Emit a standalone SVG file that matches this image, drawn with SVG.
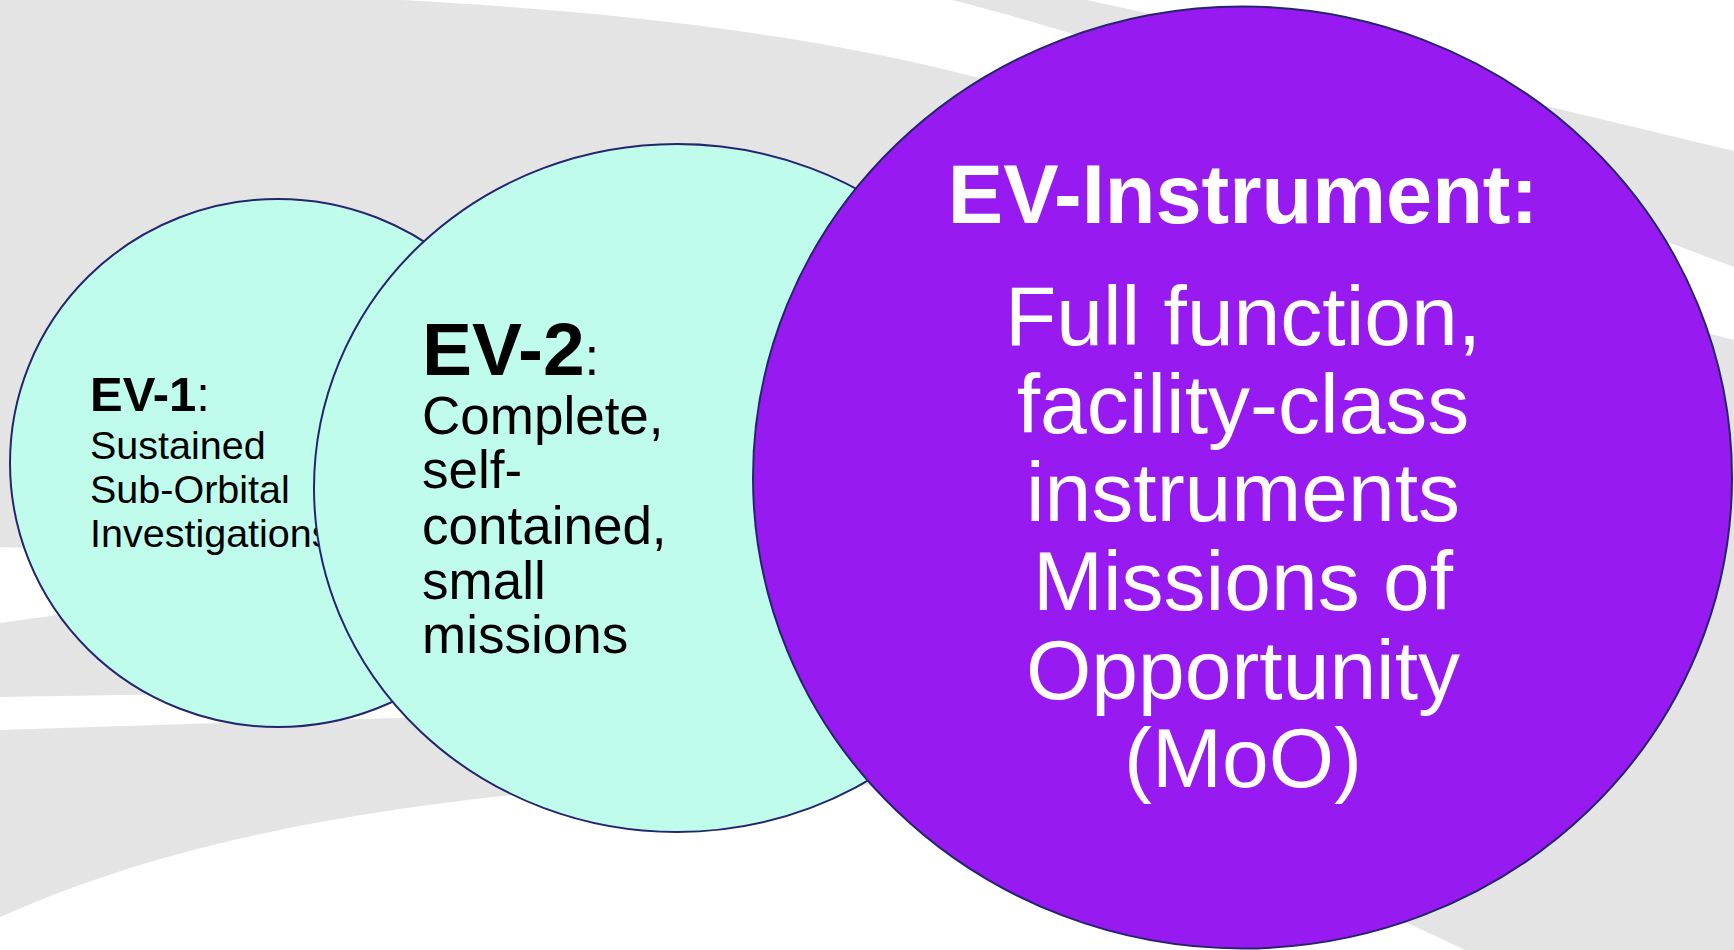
<svg xmlns="http://www.w3.org/2000/svg" width="1734" height="950" viewBox="0 0 1734 950">
<style>
.bg-gray{fill:#e4e4e4}
.bg-white{fill:#ffffff}
.small{fill:#c0fcec;stroke:#25256e;stroke-width:2}
.big{fill:#971af0;stroke:#25256e;stroke-width:2}
text{font-family:"Liberation Sans",Arial,sans-serif}
.dark{fill:#000000}
.light{fill:#ffffff}
.b{font-weight:bold}
</style>
<g id="background">
<rect x="0" y="0" width="1734" height="950" class="bg-gray"/>
<path class="bg-white" d="M 402,0 L 952,0 C 1150,50 1450,160 1734,267 L 1734,340 C 1500,280 1250,150 987,80 C 820,35 620,12 402,0 Z"/>
<path class="bg-white" d="M 1087,0 L 1734,0 L 1734,151 C 1500,95 1250,35 1087,0 Z"/>
<path class="bg-white" d="M 0,547 C 100,550 200,556 300,565 L 300,590 C 200,598 100,608 0,623 Z"/>
<path class="bg-white" d="M 0,697 C 150,695 300,692 500,688 L 500,716 C 300,720 150,725 0,730 Z"/>
<path class="bg-white" d="M 0,917 C 150,850 350,800 700,780 C 1050,775 1300,870 1465,950 L 0,950 Z"/>
</g>
<g id="connectors"></g>
<g id="ev1">
<ellipse cx="278" cy="463" rx="268" ry="264" class="small"/>
<text x="90" y="411" font-size="49" class="dark"><tspan class="b">EV-1</tspan>:</text>
<text x="90" y="459" font-size="39.5" class="dark">Sustained</text>
<text x="90" y="503" font-size="39.5" class="dark">Sub-Orbital</text>
<text x="90" y="547" font-size="39.5" class="dark">Investigations</text>
</g>
<g id="ev2">
<ellipse cx="677" cy="488" rx="363" ry="344" class="small"/>
<text x="422" y="375" font-size="75" class="dark"><tspan class="b">EV-2</tspan><tspan font-size="53">:</tspan></text>
<text x="422" y="434" font-size="53" class="dark">Complete,</text>
<text x="422" y="488" font-size="53" class="dark">self-</text>
<text x="422" y="544" font-size="53" class="dark">contained,</text>
<text x="422" y="599" font-size="53" class="dark">small</text>
<text x="422" y="653" font-size="53" class="dark">missions</text>
</g>
<g id="ev-instrument">
<ellipse cx="1242.5" cy="477.5" rx="489.5" ry="471" class="big"/>
<text x="1243" y="223" font-size="83" text-anchor="middle" class="light b">EV-Instrument:</text>
<text x="1243" y="345" font-size="84" text-anchor="middle" class="light">Full function,</text>
<text x="1243" y="433" font-size="84" text-anchor="middle" class="light">facility-class</text>
<text x="1243" y="521" font-size="84" text-anchor="middle" class="light">instruments</text>
<text x="1243" y="610" font-size="84" text-anchor="middle" class="light">Missions of</text>
<text x="1243" y="699" font-size="84" text-anchor="middle" class="light">Opportunity</text>
<text x="1243" y="787" font-size="84" text-anchor="middle" class="light">(MoO)</text>
</g>
</svg>
